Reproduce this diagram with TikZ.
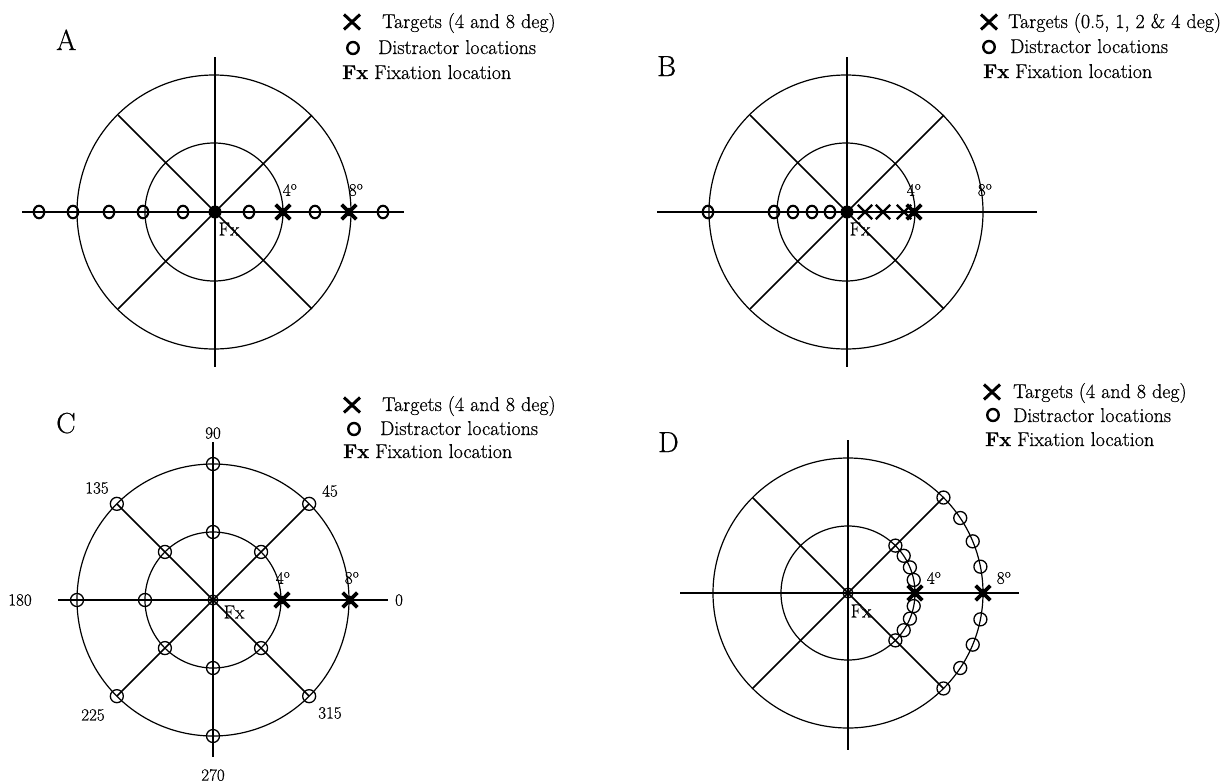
\documentclass[tikz,border=0pt]{standalone}
\usepackage{fontspec}
\setmainfont{Latin Modern Roman}[FakeBold=0.6]
\usetikzlibrary{shapes.misc,shapes.geometric}
\tikzset{
  ring/.style={line width=1.2pt},
  hax/.style={line width=2.5pt},
  vax/.style={line width=1.4pt},
  dax/.style={line width=1.7pt},
  distA/.style={ellipse, draw, line width=2.1pt, minimum width=10.5pt, minimum height=12.5pt, inner sep=0pt},
  distC/.style={circle, draw, line width=1.3pt, minimum size=13pt, inner sep=0pt},
  fixdot/.style={circle, fill, minimum size=13pt, inner sep=0pt},
  fixring/.style={circle, draw, line width=1.3pt, minimum size=10pt, inner sep=0pt},
  tgt/.style={cross out, draw, line width=3.6pt, minimum size=11pt, inner sep=0pt},
  tgtB/.style={cross out, draw, line width=2.4pt, minimum size=12pt, inner sep=0pt},
  legx/.style={cross out, draw, line width=3pt, minimum width=13pt, minimum height=12pt, inner sep=0pt},
  lego/.style={ellipse, draw, line width=2.4pt, minimum width=11.5pt, minimum height=12pt, inner sep=0pt},
  legtxt/.style={anchor=base west, inner sep=0pt, font=\fontsize{20}{22}\selectfont},
  panel/.style={anchor=base west, inner sep=0pt, font=\fontsize{29}{32}\selectfont},
  deg/.style={inner sep=0pt, font=\fontsize{17.5}{19}\selectfont},
  anglab/.style={inner sep=0pt, font=\fontsize{17}{19}\selectfont},
  fxlab/.style={inner sep=0pt, font=\fontsize{19}{21}\selectfont},
}
\newcommand\tgtmark[3][tgt]{\node[#1] (#2) at (#3) {}; \fill (#2.center) circle (4.3);}
\begin{document}
\begin{tikzpicture}[x=1pt,y=-1pt]
\useasboundingbox (0,0) rectangle (1229,782);

% ================= Panel A =================
\node[panel] (A-lab) at (56,50) {A};
\draw[ring] (214,212) circle (69);
\draw[ring] (214,212) circle (137);
\draw[vax] (215,57) -- (215,367);
\foreach \a in {45,135,225,315} \draw[dax] (215,212) -- ++(\a:137);
\draw[hax] (22,212) -- (404,212);
\foreach \x [count=\i] in {39,73,109,143,183,249,315,383}
  \node[distA] (A-d\i) at (\x,212) {};
\tgtmark{A-t4}{283,212}
\tgtmark{A-t8}{349,212}
\node[fixdot] (A-c) at (215,212) {};
\node[deg] (A-g4) at (290,190) {4\textsuperscript{o}};
\node[deg] (A-g8) at (356,190) {8\textsuperscript{o}};
\node[fxlab] (A-fx) at (229,229) {Fx};
% legend A
\node[legx] (A-lx) at (352,22) {};
\node[legtxt] (A-l1) at (382,28) {Targets (4 and 8 deg)};
\node[lego] (A-lo) at (353,48) {};
\node[legtxt] (A-l2) at (378,54) {Distractor locations};
\node[legtxt] (A-l3) at (342,79) {\textbf{Fx} Fixation location};

% ================= Panel B =================
\node[panel] (B-lab) at (657,76) {B};
\draw[ring] (846,212) circle (69);
\draw[ring] (846,212) circle (137);
\draw[vax] (847,57) -- (847,367);
\foreach \a in {45,135,225,315} \draw[dax] (847,212) -- ++(\a:137);
\draw[hax] (657,212) -- (1037,212);
\foreach \x [count=\i] in {708,774,793,812,830}
  \node[distA] (B-d\i) at (\x,212) {};
\foreach \x [count=\i] in {865,883,904}
  \node[tgtB] (B-t\i) at (\x,212) {};
\tgtmark{B-t4}{914,212}
\node[fixdot] (B-c) at (847,212) {};
\node[deg] (B-g4) at (914,190) {4\textsuperscript{o}};
\node[deg] (B-g8) at (985,190) {8\textsuperscript{o}};
\node[fxlab] (B-fx) at (860,229) {Fx};
% legend B
\node[legx] (B-lx) at (989,22) {};
\node[legtxt] (B-l1) at (1008,28) {Targets (0.5, 1, 2 \& 4 deg)};
\node[lego] (B-lo) at (989,47) {};
\node[legtxt] (B-l2) at (1010,53) {Distractor locations};
\node[legtxt] (B-l3) at (983,78) {\textbf{Fx} Fixation location};

% ================= Panel C =================
\node[panel] (C-lab) at (56,433) {C};
\draw[ring] (213,600) circle (68);
\draw[ring] (213,600) circle (136);
\draw[vax] (213,442) -- (213,757);
\foreach \a in {45,135,225,315} \draw[dax] (213,600) -- ++(\a:136);
\draw[hax] (58,600) -- (388,600);
\foreach \a in {45,90,135,180,225,270,315}{
  \node[distC] (C-i\a) at ([shift={(-\a:68)}]213,600) {};
  \node[distC] (C-o\a) at ([shift={(-\a:136)}]213,600) {};
}
\tgtmark{C-t4}{282,600}
\tgtmark{C-t8}{350,600}
\node[fixring] (C-c) at (213,600) {};
\node[deg] (C-g4) at (283,578) {4\textsuperscript{o}};
\node[deg] (C-g8) at (352,578) {8\textsuperscript{o}};
\node[fxlab] (C-fx) at (234,612) {Fx};
\node[anglab] (C-a90) at (213,433) {90};
\node[anglab] (C-a135) at (97,488) {135};
\node[anglab] (C-a45) at (330,491) {45};
\node[anglab] (C-a180) at (20,600) {180};
\node[anglab] (C-a0) at (399,600) {0};
\node[anglab] (C-a225) at (93,715) {225};
\node[anglab] (C-a315) at (330,713) {315};
\node[anglab] (C-a270) at (213,775) {270};
% legend C
\node[legx] (C-lx) at (352,405) {};
\node[legtxt] (C-l1) at (382,411) {Targets (4 and 8 deg)};
\node[lego] (C-lo) at (354,429) {};
\node[legtxt] (C-l2) at (380,435) {Distractor locations};
\node[legtxt] (C-l3) at (343,458) {\textbf{Fx} Fixation location};

% ================= Panel D =================
\node[panel] (D-lab) at (658,452) {D};
\draw[ring] (848,593) circle (67);
\draw[ring] (848,593) circle (135);
\draw[vax] (848,440) -- (848,750);
\foreach \a in {45,135,225,315} \draw[dax] (848,593) -- ++(\a:135);
\draw[hax] (680,593) -- (1019,593);
\foreach \a [count=\i] in {45,33.75,22.5,11.25,-11.25,-22.5,-33.75,-45}{
  \node[distC] (D-i\i) at ([shift={(-\a:67)}]848,593) {};
  \node[distC] (D-o\i) at ([shift={(-\a:135)}]848,593) {};
}
\tgtmark{D-t4}{915,593}
\tgtmark{D-t8}{983,593}
\node[fixring] (D-c) at (848,593) {};
\node[deg] (D-g4) at (934,578) {4\textsuperscript{o}};
\node[deg] (D-g8) at (1004,578) {8\textsuperscript{o}};
\node[fxlab] (D-fx) at (861,611) {Fx};
% legend D
\node[legx] (D-lx) at (992,392) {};
\node[legtxt] (D-l1) at (1013,398) {Targets (4 and 8 deg)};
\node[lego] (D-lo) at (993,415) {};
\node[legtxt] (D-l2) at (1013,422) {Distractor locations};
\node[legtxt] (D-l3) at (985,446) {\textbf{Fx} Fixation location};
\end{tikzpicture}
\end{document}
